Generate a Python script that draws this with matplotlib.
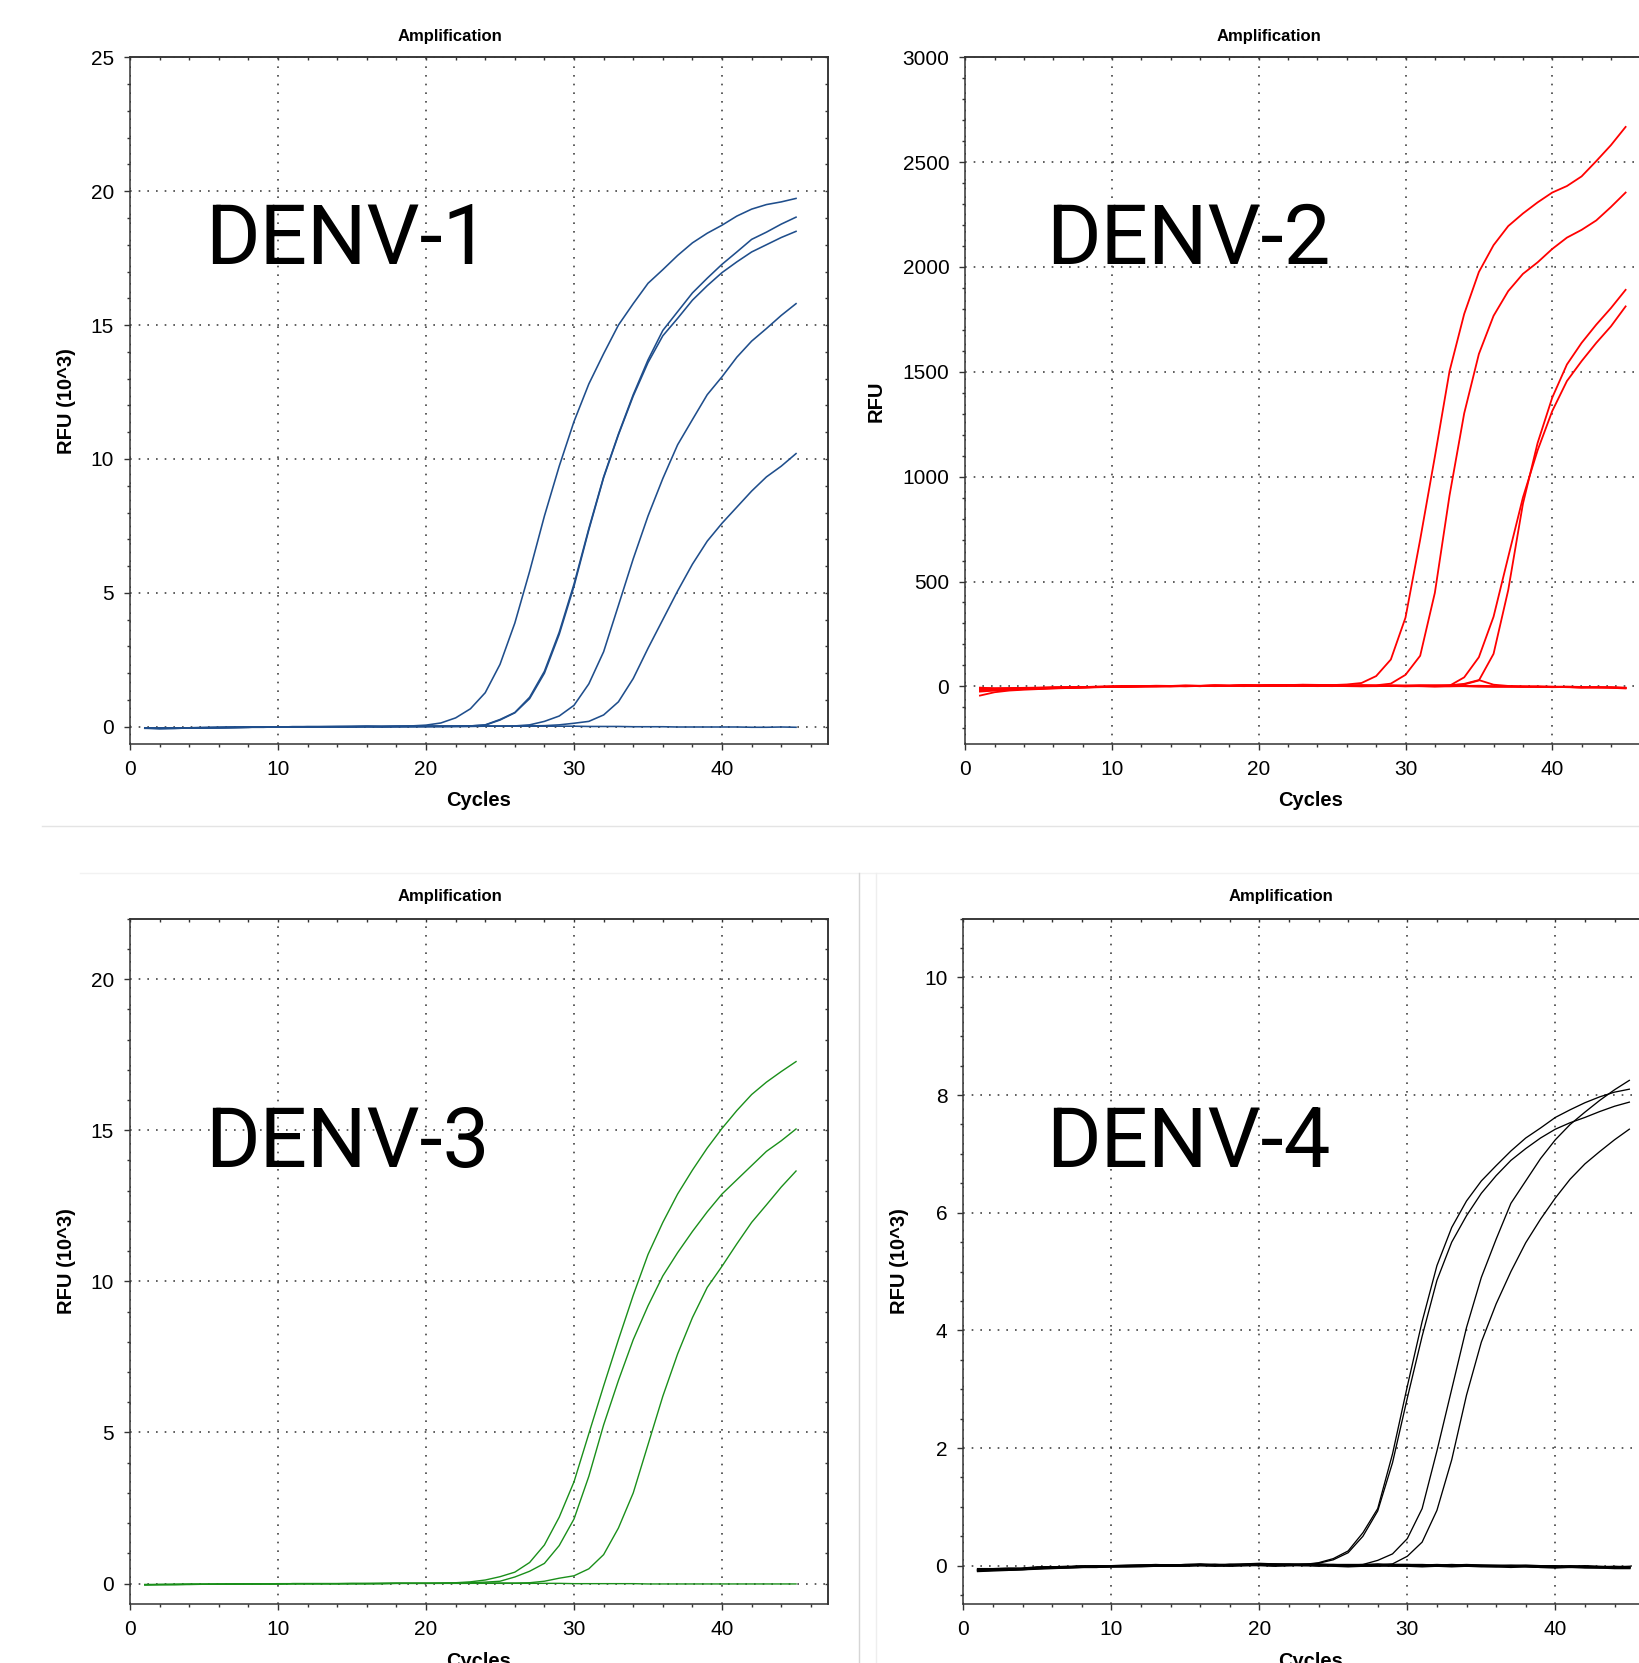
import matplotlib
matplotlib.use('Agg')
import matplotlib.pyplot as plt
from matplotlib.ticker import MultipleLocator
from matplotlib.lines import Line2D

W, H = 1639, 1663
plt.rcParams['font.family'] = ['Liberation Sans', 'DejaVu Sans']

# Cycle numbers (x)
cycles = list(range(1, 46))

# DENV-1, RFU (10^3)
d1_a = [-0.04, -0.06, -0.05, -0.04, -0.03, -0.03, -0.02, -0.02, -0.01, -0.01,
        0.00, 0.00, 0.00, 0.01, 0.00, 0.01, 0.01, 0.02, 0.03, 0.06,
        0.14, 0.33, 0.67, 1.27, 2.33, 3.87, 5.80, 7.87, 9.73, 11.40,
        12.80, 13.93, 15.00, 15.80, 16.56, 17.07, 17.60, 18.07, 18.43, 18.73,
        19.07, 19.33, 19.50, 19.60, 19.73]
d1_b = [-0.05, -0.07, -0.06, -0.05, -0.04, -0.03, -0.03, -0.02, -0.02, -0.01,
        -0.01, 0.00, 0.00, 0.00, 0.01, 0.00, 0.01, 0.01, 0.01, 0.01,
        0.02, 0.02, 0.03, 0.07, 0.27, 0.53, 1.10, 2.07, 3.53, 5.33,
        7.40, 9.33, 10.93, 12.40, 13.70, 14.80, 15.50, 16.20, 16.75, 17.27,
        17.73, 18.20, 18.47, 18.77, 19.03]
d1_c = [-0.06, -0.07, -0.06, -0.05, -0.04, -0.04, -0.03, -0.02, -0.02, -0.01,
        -0.01, -0.01, 0.00, 0.00, 0.00, 0.01, 0.00, 0.01, 0.01, 0.01,
        0.01, 0.02, 0.03, 0.06, 0.25, 0.52, 1.05, 2.00, 3.45, 5.25,
        7.35, 9.30, 10.90, 12.35, 13.60, 14.60, 15.25, 15.93, 16.47, 16.96,
        17.36, 17.73, 18.00, 18.27, 18.50]
d1_d = [-0.05, -0.06, -0.06, -0.05, -0.04, -0.03, -0.03, -0.02, -0.01, -0.01,
        0.00, 0.00, 0.00, 0.00, 0.01, 0.01, 0.00, 0.01, 0.01, 0.01,
        0.01, 0.01, 0.02, 0.02, 0.02, 0.03, 0.07, 0.20, 0.40, 0.80,
        1.60, 2.80, 4.53, 6.27, 7.87, 9.27, 10.53, 11.47, 12.40, 13.07,
        13.80, 14.40, 14.87, 15.36, 15.80]
d1_e = [-0.04, -0.05, -0.05, -0.04, -0.04, -0.03, -0.02, -0.02, -0.01, -0.01,
        -0.01, 0.00, 0.00, 0.00, 0.00, 0.01, 0.01, 0.00, 0.01, 0.01,
        0.01, 0.01, 0.01, 0.02, 0.02, 0.02, 0.03, 0.04, 0.07, 0.13,
        0.20, 0.44, 0.93, 1.80, 2.93, 4.00, 5.07, 6.07, 6.93, 7.60,
        8.20, 8.80, 9.33, 9.73, 10.20]
d1_neg = [-0.04, -0.05, -0.05, -0.04, -0.03, -0.03, -0.02, -0.02, -0.01, -0.01,
          0.00, 0.00, 0.00, 0.00, 0.00, 0.01, 0.00, 0.01, 0.01, 0.02,
          0.02, 0.02, 0.02, 0.02, 0.02, 0.02, 0.02, 0.02, 0.02, 0.02,
          0.01, 0.01, 0.01, 0.00, 0.00, 0.00, -0.01, -0.01, -0.01, -0.01,
          -0.01, -0.02, -0.02, -0.01, -0.02]

# DENV-2, RFU
d2_a = [-12, -16, -13, -10, -8, -6, -5, -3, -2, 0,
        2, 1, 3, 2, 4, 3, 5, 4, 6, 5,
        7, 6, 8, 7, 6, 9, 16, 49, 128, 328,
        700, 1095, 1503, 1776, 1976, 2104, 2195, 2255, 2308, 2355,
        2386, 2432, 2505, 2581, 2668]
d2_b = [-22, -18, -15, -12, -10, -8, -6, -5, -3, -2,
        0, 1, 0, 2, 3, 2, 4, 3, 5, 4,
        6, 5, 7, 6, 5, 4, 6, 5, 13, 55,
        146, 446, 910, 1302, 1585, 1767, 1885, 1967, 2022, 2086,
        2140, 2177, 2222, 2286, 2355]
d2_c = [-6, -10, -9, -8, -7, -5, -4, -3, -2, -1,
        0, 1, 2, 1, 3, 2, 4, 3, 5, 4,
        6, 5, 7, 6, 5, 4, 3, 4, 5, 3,
        4, 5, 3, 43, 139, 332, 617, 900, 1125, 1313,
        1456, 1551, 1638, 1717, 1812]
d2_d = [-18, -15, -13, -11, -9, -7, -6, -4, -3, -2,
        -1, 0, 1, 0, 2, 1, 3, 2, 4, 3,
        5, 4, 3, 5, 4, 3, 4, 2, 3, 4,
        5, 4, 6, 9, 28, 155, 459, 870, 1160, 1377,
        1535, 1638, 1725, 1804, 1891]
d2_n1 = [-44, -28, -20, -16, -13, -10, -8, -6, -4, -3,
         -2, -1, 0, 1, 0, 2, 1, 2, 3, 2,
         3, 4, 3, 2, 3, 2, 1, 2, 3, 2,
         1, 0, 2, 1, 0, -1, -2, -1, -3, -2,
         -4, -5, -4, -6, -8]
d2_n2 = [-25, -20, -16, -13, -11, -9, -7, -5, -4, -3,
         -1, 0, 1, 0, 2, 1, 3, 2, 1, 3,
         2, 4, 3, 2, 1, 3, 2, 1, 2, 1,
         3, 2, 4, 12, 30, 8, 2, 0, -1, -2,
         -3, -6, -4, -7, -10]
d2_n3 = [-15, -14, -12, -10, -9, -7, -6, -5, -3, -2,
         -1, 0, 1, 2, 1, 2, 3, 2, 4, 3,
         2, 4, 3, 5, 4, 3, 2, 3, 1, 2,
         1, 2, 1, 2, 3, 1, 0, -1, 0, -2,
         -1, -3, -5, -4, -6]
d2_n4 = [-8, -9, -8, -7, -6, -5, -4, -3, -2, -1,
         0, 1, 0, 1, 2, 1, 2, 3, 2, 1,
         2, 3, 2, 1, 2, 1, 0, 1, 2, 0,
         1, -1, 0, 1, -1, -2, -1, -3, -2, -4,
         -3, -5, -6, -5, -8]

# DENV-3, RFU (10^3)
d3_a = [-0.03, -0.03, -0.03, -0.02, -0.02, -0.02, -0.01, -0.01, -0.01, -0.01,
        0.00, 0.00, 0.00, 0.00, 0.00, 0.00, 0.01, 0.01, 0.01, 0.01,
        0.02, 0.03, 0.06, 0.12, 0.23, 0.38, 0.70, 1.28, 2.20, 3.37,
        4.96, 6.54, 8.07, 9.54, 10.89, 11.95, 12.89, 13.68, 14.41, 15.06,
        15.65, 16.18, 16.59, 16.94, 17.27]
d3_b = [-0.03, -0.03, -0.02, -0.02, -0.02, -0.01, -0.01, -0.01, -0.01, 0.00,
        0.00, 0.00, 0.00, 0.00, 0.01, 0.00, 0.01, 0.01, 0.01, 0.01,
        0.01, 0.02, 0.03, 0.05, 0.08, 0.22, 0.41, 0.67, 1.26, 2.14,
        3.55, 5.25, 6.72, 8.07, 9.19, 10.18, 10.95, 11.65, 12.30, 12.89,
        13.36, 13.83, 14.30, 14.65, 15.04]
d3_c = [-0.04, -0.03, -0.03, -0.02, -0.02, -0.02, -0.01, -0.01, -0.01, -0.01,
        0.00, 0.00, 0.00, 0.00, 0.00, 0.01, 0.00, 0.01, 0.01, 0.01,
        0.01, 0.01, 0.01, 0.02, 0.02, 0.02, 0.03, 0.08, 0.18, 0.26,
        0.49, 0.96, 1.84, 3.00, 4.60, 6.20, 7.60, 8.80, 9.80, 10.50,
        11.24, 11.95, 12.53, 13.12, 13.65]
d3_neg = [-0.04, -0.03, -0.03, -0.03, -0.02, -0.02, -0.02, -0.01, -0.01, -0.01,
          0.00, 0.00, 0.00, 0.00, 0.00, 0.00, 0.00, 0.01, 0.01, 0.01,
          0.01, 0.01, 0.01, 0.01, 0.01, 0.01, 0.01, 0.01, 0.01, 0.00,
          0.00, 0.00, 0.00, 0.00, -0.01, -0.01, -0.01, -0.01, -0.01, -0.01,
          -0.01, -0.01, -0.01, -0.01, -0.01]

# DENV-4, RFU (10^3)
d4_a = [-0.07, -0.06, -0.06, -0.05, -0.03, -0.02, -0.02, -0.01, -0.01, 0.00,
        0.00, 0.00, 0.00, 0.01, 0.01, 0.01, 0.01, 0.02, 0.02, 0.02,
        0.01, 0.02, 0.02, 0.05, 0.12, 0.25, 0.56, 0.97, 1.90, 3.05,
        4.15, 5.10, 5.75, 6.20, 6.54, 6.80, 7.05, 7.27, 7.44, 7.62,
        7.75, 7.87, 7.97, 8.05, 8.10]
d4_b = [-0.08, -0.07, -0.06, -0.05, -0.04, -0.03, -0.02, -0.01, -0.01, -0.01,
        0.00, 0.00, 0.01, 0.01, 0.00, 0.01, 0.02, 0.01, 0.02, 0.03,
        0.02, 0.02, 0.02, 0.04, 0.10, 0.22, 0.50, 0.93, 1.75, 2.85,
        3.90, 4.85, 5.50, 5.95, 6.33, 6.63, 6.89, 7.09, 7.27, 7.42,
        7.53, 7.62, 7.72, 7.81, 7.88]
d4_c = [-0.06, -0.06, -0.05, -0.05, -0.03, -0.03, -0.02, -0.02, -0.01, 0.00,
        0.00, 0.01, 0.00, 0.01, 0.01, 0.02, 0.01, 0.02, 0.02, 0.02,
        0.03, 0.02, 0.01, 0.01, 0.01, 0.01, 0.02, 0.09, 0.20, 0.46,
        0.97, 1.95, 3.00, 4.05, 4.90, 5.55, 6.16, 6.54, 6.92, 7.24,
        7.50, 7.71, 7.91, 8.09, 8.25]
d4_d = [-0.07, -0.07, -0.06, -0.05, -0.04, -0.02, -0.02, -0.01, -0.01, 0.00,
        0.00, 0.00, 0.01, 0.01, 0.01, 0.01, 0.02, 0.02, 0.01, 0.02,
        0.02, 0.01, 0.02, 0.01, 0.01, 0.00, 0.01, 0.01, 0.03, 0.16,
        0.40, 0.94, 1.80, 2.90, 3.80, 4.45, 5.00, 5.49, 5.89, 6.25,
        6.57, 6.83, 7.04, 7.24, 7.42]
d4_n1 = [-0.08, -0.07, -0.07, -0.06, -0.04, -0.03, -0.03, -0.02, -0.02, -0.01,
         -0.01, 0.00, 0.00, 0.00, 0.01, 0.01, 0.01, 0.00, 0.01, 0.02,
         0.01, 0.01, 0.02, 0.01, 0.00, -0.01, 0.00, 0.00, 0.01, 0.01,
         0.01, 0.00, 0.01, 0.00, 0.00, -0.01, 0.00, -0.01, -0.02, -0.02,
         -0.01, -0.02, -0.03, -0.02, -0.03]
d4_n2 = [-0.06, -0.06, -0.05, -0.05, -0.03, -0.03, -0.02, -0.02, -0.01, -0.01,
         0.00, 0.00, 0.01, 0.00, 0.01, 0.02, 0.01, 0.01, 0.02, 0.03,
         0.02, 0.02, 0.01, 0.02, 0.01, 0.01, 0.01, 0.02, 0.01, 0.01,
         0.00, 0.01, 0.00, 0.01, 0.00, 0.00, -0.01, 0.00, -0.01, -0.01,
         -0.02, -0.01, -0.02, -0.03, -0.02]
d4_n3 = [-0.09, -0.08, -0.07, -0.06, -0.05, -0.04, -0.03, -0.02, -0.02, -0.01,
         -0.01, -0.01, 0.00, 0.00, 0.00, 0.01, 0.00, 0.01, 0.01, 0.01,
         0.00, 0.01, 0.01, 0.00, 0.01, 0.00, 0.00, 0.01, 0.00, 0.00,
         -0.01, 0.00, -0.01, 0.00, -0.01, -0.01, -0.02, -0.01, -0.02, -0.03,
         -0.02, -0.03, -0.03, -0.04, -0.04]

fig = plt.figure(figsize=(W / 100, H / 100), dpi=100)


def add_axes(left, top, width, height):
    return fig.add_axes([left / W, 1 - (top + height) / H, width / W, height / H])


def style(ax, ylim, ymajor, yminor):
    ax.set_xlim(0, 47.16)
    ax.set_ylim(*ylim)
    ax.xaxis.set_major_locator(MultipleLocator(10))
    ax.xaxis.set_minor_locator(MultipleLocator(2))
    ax.yaxis.set_major_locator(MultipleLocator(ymajor))
    ax.yaxis.set_minor_locator(MultipleLocator(yminor))
    ax.tick_params(which='major', direction='out', length=4.5, width=1,
                   color='#333333', labelsize=15, pad=7)
    ax.tick_params(which='minor', direction='out', length=2.5, width=1,
                   color='#333333')
    ax.grid(True, which='major', linestyle=(0, (1, 4.2)), linewidth=1.2,
            color='#444444')
    ax.set_axisbelow(True)
    for s in ax.spines.values():
        s.set_linewidth(1.1)
        s.set_color('#333333')
    # small inward ticks on top and right
    top = ax.secondary_xaxis('top')
    top.xaxis.set_major_locator(MultipleLocator(2))
    top.tick_params(direction='in', length=2.5, width=1, color='#333333',
                    labeltop=False)
    top.spines['top'].set_linewidth(1.1)
    top.spines['top'].set_color('#333333')
    right = ax.secondary_yaxis('right')
    right.yaxis.set_major_locator(MultipleLocator(yminor))
    right.tick_params(direction='in', length=2.5, width=1, color='#333333',
                      labelright=False)
    right.spines['right'].set_linewidth(1.1)
    right.spines['right'].set_color('#333333')


# panel 1
ax1 = add_axes(130, 57.3, 698, 686.3)
style(ax1, (-0.63, 25), 5, 1)
for ys in [d1_neg, d1_e, d1_d, d1_c, d1_b, d1_a]:
    ax1.plot(cycles, ys, color='#1f4e8c', lw=1.15)

# panel 2
ax2 = add_axes(965.3, 57.3, 692, 686.3)
style(ax2, (-273, 3000), 500, 100)
for ys in [d2_n1, d2_n2, d2_n3, d2_n4, d2_d, d2_c, d2_b, d2_a]:
    ax2.plot(cycles, ys, color='#ff0000', lw=1.3)

# panel 3
ax3 = add_axes(130, 918.6, 698, 685.3)
style(ax3, (-0.67, 22), 5, 1)
for ys in [d3_neg, d3_c, d3_b, d3_a]:
    ax3.plot(cycles, ys, color='#1a8f1a', lw=1.0)

# panel 4
ax4 = add_axes(963.3, 918.6, 698, 685.3)
style(ax4, (-0.65, 11), 2, 0.5)
for ys in [d4_n1, d4_n2, d4_n3]:
    ax4.plot(cycles, ys, color='#000000', lw=1.8)
for ys in [d4_d, d4_c, d4_b, d4_a]:
    ax4.plot(cycles, ys, color='#000000', lw=0.95)


def ftext(x, y, s, **kw):
    fig.text(x / W, 1 - y / H, s, **kw)


for x, y in [(449.8, 36), (1268.7, 36), (449.8, 896.3), (1281.4, 896.3)]:
    ftext(x, y, 'Amplification', ha='center', va='center', fontsize=12,
          fontweight='bold')
for x, y in [(479, 800.9), (1311, 800.9), (479, 1661.2), (1311, 1661.2)]:
    ftext(x, y, 'Cycles', ha='center', va='center', fontsize=14.5,
          fontweight='bold')
ftext(66.8, 401, 'RFU (10^3)', ha='center', va='center', rotation=90,
      fontsize=14.5, fontweight='bold')
ftext(876.2, 401, 'RFU', ha='center', va='center', rotation=90,
      fontsize=14.5, fontweight='bold')
ftext(66.8, 1261, 'RFU (10^3)', ha='center', va='center', rotation=90,
      fontsize=14.5, fontweight='bold')
ftext(899.6, 1261, 'RFU (10^3)', ha='center', va='center', rotation=90,
      fontsize=14.5, fontweight='bold')

# big serotype labels
for x, y, s in [(204.7, 264, 'DENV-1'), (1046, 264, 'DENV-2'),
                (204.7, 1166.7, 'DENV-3'), (1046, 1166.7, 'DENV-4')]:
    ftext(x, y, s, ha='left', va='baseline', fontsize=60, family='Roboto')

# faint screenshot separators
fig.add_artist(Line2D([42 / W, 1], [1 - 826.4 / H] * 2, color='#e4e4e4', lw=1))
fig.add_artist(Line2D([80 / W, 1], [1 - 872.6 / H] * 2, color='#f2f2f2', lw=1))
fig.add_artist(Line2D([859 / W] * 2, [1 - 873 / H, 0], color='#d6d6d6', lw=1))
fig.add_artist(Line2D([876 / W] * 2, [1 - 873 / H, 0], color='#eeeeee', lw=1))

fig.savefig('out.png', dpi=100)
